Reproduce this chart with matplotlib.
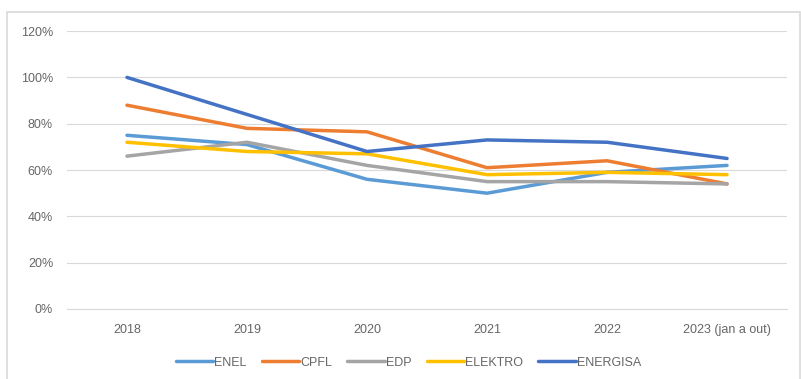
import matplotlib
matplotlib.use("Agg")
import matplotlib.pyplot as plt
from matplotlib.patches import Rectangle
from matplotlib.ticker import PercentFormatter

years = ["2018", "2019", "2020", "2021", "2022", "2023 (jan a out)"]
enel = [0.75, 0.71, 0.56, 0.50, 0.59, 0.62]
cpfl = [0.88, 0.78, 0.765, 0.61, 0.64, 0.54]
edp = [0.66, 0.72, 0.62, 0.55, 0.55, 0.54]
elektro = [0.72, 0.68, 0.67, 0.58, 0.59, 0.58]
energisa = [1.00, 0.84, 0.68, 0.73, 0.72, 0.65]

series = [
    ("ENEL", enel, "#5B9BD5"),
    ("CPFL", cpfl, "#ED7D31"),
    ("EDP", edp, "#A5A5A5"),
    ("ELEKTRO", elektro, "#FFC000"),
    ("ENERGISA", energisa, "#4472C4"),
]

plt.rcParams['font.family'] = ['Liberation Sans', 'DejaVu Sans']
text_color = "#666666"

fig = plt.figure(figsize=(8.01, 3.79), dpi=100)
ax = fig.add_axes([0.0836, 0.1847, 0.899, 0.7333])

x = range(len(years))
for name, vals, color in series:
    ax.plot(x, vals, color=color, linewidth=2.5, label=name, solid_capstyle="round")

ax.set_xlim(-0.5, len(years) - 0.5)
ax.set_ylim(0, 1.2)
ax.set_yticks([0, 0.2, 0.4, 0.6, 0.8, 1.0, 1.2])
ax.yaxis.set_major_formatter(PercentFormatter(1.0, decimals=0))
ax.set_xticks(list(x))
ax.set_xticklabels(years)
ax.grid(axis="y", color="#D9D9D9", linewidth=0.8)
ax.set_axisbelow(True)
for side in ["top", "right", "left"]:
    ax.spines[side].set_visible(False)
ax.spines["bottom"].set_color("#D9D9D9")
ax.tick_params(axis="both", length=0, colors=text_color, labelsize=9)
ax.tick_params(axis="x", pad=11)
ax.tick_params(axis="y", pad=10)

leg = fig.legend(loc="center", bbox_to_anchor=(0.51, 0.043), ncol=5, frameon=False,
                 fontsize=9, handlelength=3.0, columnspacing=1.2, handletextpad=0.1)
for t in leg.get_texts():
    t.set_color(text_color)

# outer chart border
fig.add_artist(Rectangle((7 / 801, -0.01), 793 / 801, 1 - 12 / 379 + 0.01,
                         transform=fig.transFigure, fill=False,
                         edgecolor="#D9D9D9", linewidth=1.2))

fig.savefig("out.png", dpi=100)
